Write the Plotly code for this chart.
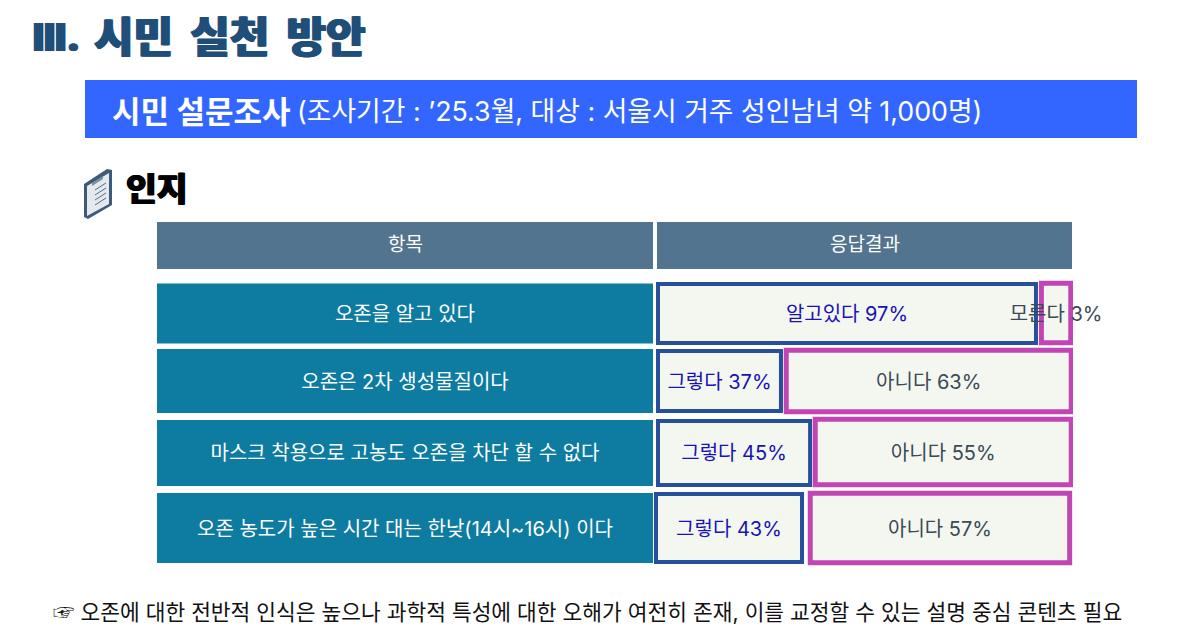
import plotly.graph_objects as go

# ---- data ----
items = ["오존을 알고 있다", "오존은 2차 생성물질이다", "마스크 착용으로 고농도 오존을 차단 할 수 없다",
         "오존 농도가 높은 시간 대는 한낮(14시~16시) 이다"]
yes_labels = ["알고있다", "그렇다", "그렇다", "그렇다"]
yes_values = [97, 37, 45, 43]
no_labels = ["모른다", "아니다", "아니다", "아니다"]
no_values = [3, 63, 55, 57]

# the boxes in the source are not drawn to scale: their extents are read separately,
# in percent of the response column
yes_start = [0.24, 0.24, 0.24, -0.24]
yes_end = [91.1, 29.8, 36.8, 34.86]
no_start = [92.4, 31.07, 38.04, 36.84]
no_end = [99.46, 99.58, 99.58, 99.2]

# row geometry on the vertical axis
item_center = [313.5, 381, 453, 528]
item_height = [60, 64, 66, 70]
yes_center = [313.5, 381, 453, 528]
yes_height = [59, 60, 64, 68]
no_center = [313, 381, 452, 528]
no_height = [59.5, 61.5, 65.5, 69.5]
text_center = [315.5, 383.5, 454.5, 530.5]

KR = "Inter, 'Noto Sans CJK KR', sans-serif"
W, H = 1200, 628
BLUE_TEXT, DARK_TEXT = "#1a12b4", "#3a4a56"
BOX = "#f4f7f0"


def px(x):
    return x / W


def py(y):
    return 1 - y / H


fig = go.Figure()

# item column
fig.add_trace(go.Bar(x=[1] * 4, y=item_center, width=item_height, orientation="h",
                     marker=dict(color="#0e7ba1", line=dict(width=0)), xaxis="x2", yaxis="y"))
fig.add_trace(go.Scatter(x=[0.5] * 4, y=text_center, text=items, mode="text", xaxis="x2", yaxis="y",
                         textfont=dict(family=KR, size=20, color="white")))

# response column
fig.add_trace(go.Bar(base=yes_start, x=[e - s for s, e in zip(yes_start, yes_end)], y=yes_center,
                     width=yes_height, orientation="h",
                     marker=dict(color=BOX, line=dict(color="#26509a", width=4))))
fig.add_trace(go.Bar(base=no_start, x=[e - s for s, e in zip(no_start, no_end)], y=no_center,
                     width=no_height, orientation="h",
                     marker=dict(color=BOX, line=dict(color="#c245b4", width=5))))
fig.add_trace(go.Scatter(x=[(s + e) / 2 for s, e in zip(yes_start, yes_end)], y=text_center,
                         text=[f"{l} {v}%" for l, v in zip(yes_labels, yes_values)],
                         mode="text", cliponaxis=False,
                         textfont=dict(family=KR, size=20, color=BLUE_TEXT)))
fig.add_trace(go.Scatter(x=[(s + e) / 2 for s, e in zip(no_start, no_end)], y=text_center,
                         text=[f"{l} {v}%" for l, v in zip(no_labels, no_values)],
                         mode="text", cliponaxis=False,
                         textfont=dict(family=KR, size=20, color=DARK_TEXT)))


def rect(x0, y0, x1, y1, color):
    return dict(type="rect", xref="paper", yref="paper", x0=px(x0), x1=px(x1), y0=py(y1), y1=py(y0),
                fillcolor=color, line=dict(width=0), layer="below")


def poly(points, fill=None, line=None, width=1):
    p = "M " + " L ".join(f"{px(x):.5f},{py(y):.5f}" for x, y in points) + (" Z" if fill else "")
    return dict(type="path", xref="paper", yref="paper", path=p, fillcolor=fill,
                line=dict(color=line or "rgba(0,0,0,0)", width=width), layer="above")


shapes = [
    rect(85, 80, 1137, 138, "#3366ff"),
    rect(157, 222, 653, 269, "#53748f"),
    rect(657, 222, 1072, 269, "#53748f"),
    # clipboard icon
    poly([(84, 184), (107, 169), (112, 170), (112, 205), (88, 219), (84, 217)], fill="#3e5a78"),
    poly([(87, 186), (109, 173), (109, 204), (87, 216)], fill="#e3e9ee"),
    poly([(92, 183), (103, 176), (103, 179), (92, 186)], fill="#7b8fa3"),
]
for top in (190, 195, 200, 205):
    shapes.append(poly([(95, top), (106, top - 7)], line="#5a6b7c", width=1))


def note(text, x, y, size, color, anchor="center", weight=None, shadow=None):
    return dict(text=text, x=px(x), y=py(y), xref="paper", yref="paper", xanchor=anchor, yanchor="middle",
                showarrow=False, font=dict(family=KR, size=size, color=color, weight=weight, shadow=shadow))


TITLE = "#1f4e79"
TITLE_SHADOW = f"1px 0 0 {TITLE}, -1px 0 0 {TITLE}"
annotations = [
    note("Ⅲ.", 31, 37, 38, TITLE, "left", 900, TITLE_SHADOW),
    note("시민  실천  방안", 92, 37, 43, TITLE, "left", 900, TITLE_SHADOW),
    note("<b>시민 설문조사</b>", 110, 111, 31, "white", "left"),
    note("(조사기간 : ’25.3월, 대상 : 서울시 거주 성인남녀 약 1,000명)", 295, 111, 26.8, "white", "left"),
    note("인지", 124, 189, 33.5, "#000000", "left", 900, "0.7px 0 0 #000, -0.7px 0 0 #000"),
    note("항목", 405, 245, 19, "white"),
    note("응답결과", 865, 245, 19, "white"),
    note("☞ 오존에 대한 전반적 인식은 높으나 과학적 특성에 대한 오해가 여전히 존재, 이를 교정할 수 있는 설명 중심 콘텐츠 필요",
         51, 612, 21.45, "#111111", "left"),
]

# response axis: 0 at pixel 657, 100 at pixel 1073, with a little room on the left
fig.update_layout(
    width=W, height=H, autosize=False, margin=dict(l=0, r=0, t=0, b=0),
    paper_bgcolor="white", plot_bgcolor="rgba(0,0,0,0)",
    barmode="overlay", showlegend=False, hovermode=False,
    xaxis=dict(domain=[px(657 - 20.8), px(1073)], range=[-5, 100], visible=False, fixedrange=True),
    xaxis2=dict(domain=[px(157), px(653)], range=[0, 1], visible=False, fixedrange=True, anchor="y"),
    yaxis=dict(domain=[0, 1], range=[H, 0], visible=False, fixedrange=True),
    shapes=shapes, annotations=annotations,
)
fig.update_traces(selector=dict(type="bar"), cliponaxis=False)

fig.write_html("out.html", config=dict(displayModeBar=False),
               post_script="document.body.style.margin='0';document.body.style.overflow='hidden';")
